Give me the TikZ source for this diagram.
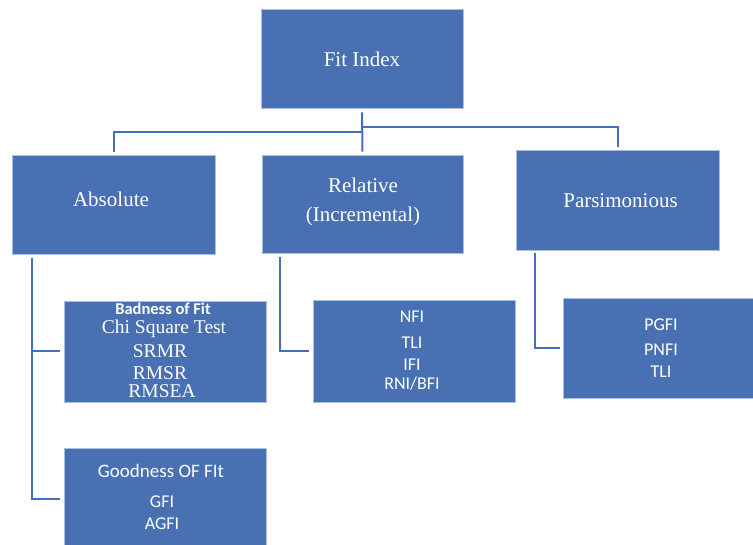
\documentclass[tikz,border=0pt]{standalone}
\usepackage{fontspec}
\setmainfont{Liberation Serif}
\newfontfamily\calib{Carlito}
\definecolor{boxblue}{RGB}{73,112,178}
\definecolor{boxedge}{RGB}{170,190,225}
\definecolor{linkblue}{RGB}{68,110,190}
\tikzset{
  box/.style={rectangle, fill=boxblue, draw=boxedge, line width=0.6pt,
    inner sep=0pt, minimum width=#1},
  box/.default=202pt,
  conn/.style={draw=linkblue, line width=2pt},
  head/.style={text=white, anchor=base, inner sep=0pt,
    font=\fontsize{21}{24}\selectfont},
  serifitem/.style={text=white, anchor=base, inner sep=0pt, text depth=0pt,
    font=\fontsize{19.5}{22}\selectfont},
  sansitem/.style={text=white, anchor=base, inner sep=0pt,
    font=\calib\fontsize{18}{20}\selectfont},
}
\begin{document}
\begin{tikzpicture}[x=1pt,y=-1pt]
\useasboundingbox (0,0) rectangle (753,545);
\clip (0,0) rectangle (753,545);

% top-level boxes
\node[box, minimum height=99pt]  (fit)  at (362,58.5)  {};
\node[box=203pt, minimum height=99pt]  (abs)  at (113.5,204.5) {};
\node[box=201pt, minimum height=98pt]  (rel)  at (362.5,204) {};
\node[box=203pt, minimum height=100pt] (pars) at (617.5,200) {};

% second-level boxes
\node[box, minimum height=101pt] (bad)  at (165,351.5) {};
\node[box, minimum height=102pt] (good) at (165,499)   {};
\node[box, minimum height=102pt] (nfi)  at (414,351)   {};
\node[box, minimum height=100pt] (pgfi) at (664,348)   {};

% headings
\node[head] (tfit)  at (362,66.5)  {Fit Index};
\node[head] (tabs)  at (111,207)   {Absolute};
\node[head] (trel1) at (363,193)   {Relative};
\node[head] (trel2) at (363,222)   {(Incremental)};
\node[head] (tpars) at (620.5,208) {Parsimonious};

% absolute: badness of fit
\node[text=white, anchor=base, inner sep=0pt,
      font=\calib\bfseries\fontsize{16.5}{18}\selectfont] (bhead) at (163,315) {Badness of Fit};
\node[serifitem] (chi)   at (164,334) {Chi Square Test};
\node[serifitem] (srmr)  at (160,358) {SRMR};
\node[serifitem] (rmsr)  at (160,379.5) {RMSR};
\node[serifitem] (rmsea) at (162,398) {RMSEA};

% absolute: goodness of fit
\node[sansitem, font=\calib\fontsize{19}{21}\selectfont] (ghead) at (161,477) {Goodness OF FIt};
\node[sansitem] (gfi)  at (162,507.5) {GFI};
\node[sansitem] (agfi) at (162,529)   {AGFI};

% relative indices
\node[sansitem] (nfit)  at (412,323) {NFI};
\node[sansitem] (tli1)  at (412,349) {TLI};
\node[sansitem] (ifi)   at (412,371) {IFI};
\node[sansitem] (rni)   at (412,390) {RNI/BFI};

% parsimonious indices
\node[sansitem] (pgfit) at (661,330.5) {PGFI};
\node[sansitem] (pnfi)  at (661,355.5) {PNFI};
\node[sansitem] (tli2)  at (661,378)   {TLI};

% tree connectors under the root
\coordinate (jl) at ([yshift=-24pt]fit.south);
\coordinate (jr) at ([yshift=-19pt]fit.south);
\draw[conn] ([yshift=-4pt]fit.south) -- ([yshift=3pt]rel.north);
\draw[conn] (jl) -| ([yshift=3pt]abs.north);
\draw[conn] (jr) -| ([yshift=3pt]pars.north);

% absolute column
\coordinate (aL) at ([xshift=20pt,yshift=-4pt]abs.south west);
\draw[conn] (aL) |- ([xshift=-4pt]good.west);
\draw[conn] (aL |- bad.west) -- ([xshift=-4pt]bad.west);

% relative column
\draw[conn] ([xshift=18pt,yshift=-4pt]rel.south west) |- ([xshift=-4pt]nfi.west);

% parsimonious column
\draw[conn] ([xshift=19pt,yshift=-3pt]pars.south west) |- ([xshift=-3pt]pgfi.west);
\end{tikzpicture}
\end{document}
